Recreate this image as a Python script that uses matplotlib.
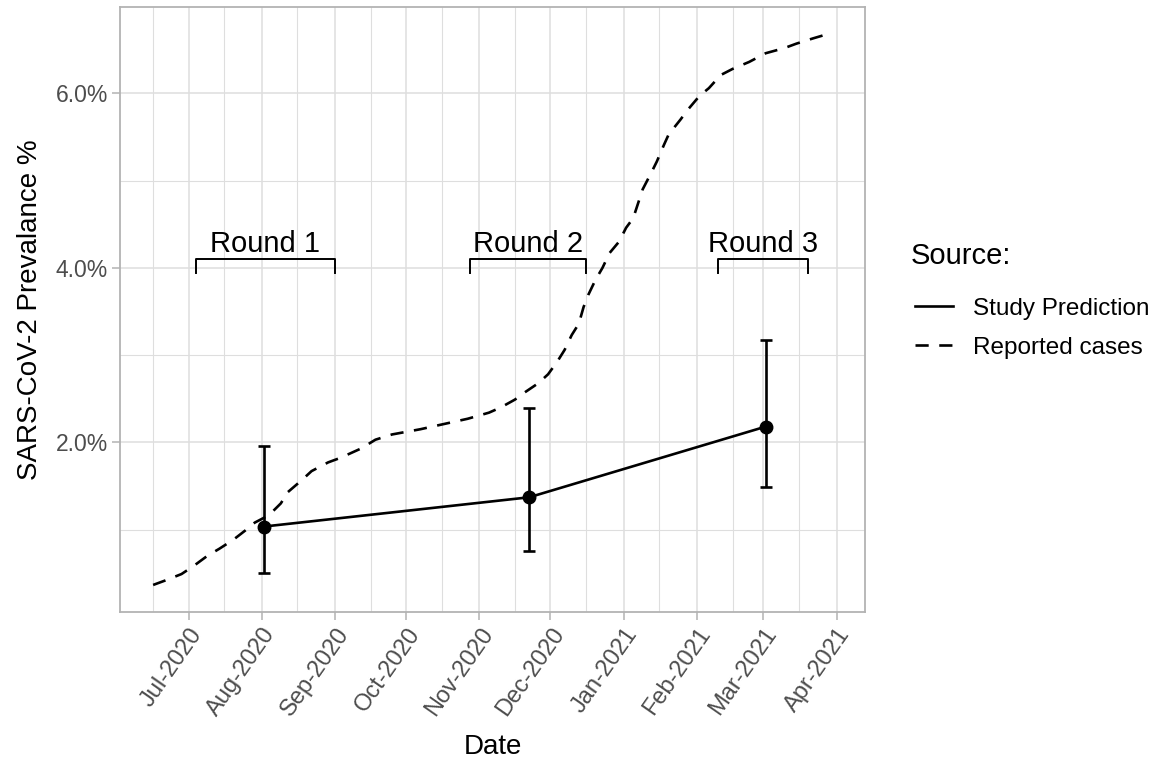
import matplotlib
matplotlib.use("Agg")
import matplotlib.pyplot as plt
import matplotlib.dates as mdates
from matplotlib.lines import Line2D
import numpy as np
import pandas as pd

# ---- data ----
pred_dates = ["2020-08-02", "2020-11-22", "2021-03-02"]
pred_vals = [1.035, 1.37, 2.18]
pred_low = [0.50, 0.75, 1.49]
pred_high = [1.96, 2.39, 3.17]

rep_dates = ["2020-06-16", "2020-06-21", "2020-06-28", "2020-07-03", "2020-07-09",
             "2020-07-14", "2020-07-20", "2020-07-25", "2020-07-29", "2020-08-04",
             "2020-08-09", "2020-08-12", "2020-08-18", "2020-08-22", "2020-08-29",
             "2020-09-03", "2020-09-12", "2020-09-18", "2020-09-25", "2020-10-07",
             "2020-10-17", "2020-10-27", "2020-11-05", "2020-11-10", "2020-11-16",
             "2020-11-20", "2020-11-26", "2020-11-30", "2020-12-04", "2020-12-07",
             "2020-12-10", "2020-12-13", "2020-12-15", "2020-12-17", "2020-12-20",
             "2020-12-23", "2020-12-26", "2020-12-30", "2021-01-02", "2021-01-05",
             "2021-01-09", "2021-01-13", "2021-01-15", "2021-01-18", "2021-01-20",
             "2021-01-25", "2021-01-28", "2021-02-02", "2021-02-06", "2021-02-11",
             "2021-02-16", "2021-02-23", "2021-03-02", "2021-03-10", "2021-03-15",
             "2021-03-22", "2021-03-27"]
rep_vals = [0.365, 0.415, 0.49, 0.58, 0.70,
            0.78, 0.885, 0.99, 1.08, 1.165,
            1.30, 1.43, 1.57, 1.67, 1.77,
            1.82, 1.93, 2.03, 2.09, 2.15,
            2.21, 2.27, 2.34, 2.40, 2.49,
            2.57, 2.68, 2.78, 2.93, 3.06,
            3.23, 3.36, 3.55, 3.69, 3.86,
            4.00, 4.17, 4.30, 4.46, 4.57,
            4.90, 5.11, 5.22, 5.41, 5.53,
            5.70, 5.81, 5.97, 6.06, 6.21,
            6.28, 6.36, 6.46, 6.52, 6.57,
            6.63, 6.67]

rounds = ["Round 1", "Round 2", "Round 3"]
round_start = ["2020-07-04", "2020-10-28", "2021-02-10"]
round_end = ["2020-09-01", "2020-12-16", "2021-03-20"]
round_y = 4.10
round_tip = 3.94
round_text_y = 4.18

tick_dates = pd.date_range("2020-07-01", "2021-04-01", freq="MS")

# ---- style ----
plt.rcParams.update({"font.family": ["Liberation Sans", "DejaVu Sans"]})
grid_col = "#DEDEDE"
border_col = "#B3B3B3"
tick_col = "#4D4D4D"
dash = (0, (5, 4))
lw = 1.9

fig = plt.figure(figsize=(11.59, 7.61), dpi=100)
ax = fig.add_axes([120 / 1159, 1 - 612 / 761, 745 / 1159, 605 / 761])

pd_x = pd.to_datetime(pred_dates)
rp_x = pd.to_datetime(rep_dates)

ax.plot(rp_x, rep_vals, color="black", linewidth=lw, linestyle=dash, zorder=3)
yerr = [np.array(pred_vals) - np.array(pred_low), np.array(pred_high) - np.array(pred_vals)]
ax.errorbar(pd_x, pred_vals, yerr=yerr, color="black", linewidth=lw, elinewidth=lw,
            capsize=4.2, capthick=lw, marker="o", markersize=9, zorder=4)

# round brackets
for name, s, e in zip(rounds, round_start, round_end):
    s, e = pd.Timestamp(s), pd.Timestamp(e)
    ax.plot([s, s, e, e], [round_tip, round_y, round_y, round_tip],
            color="black", linewidth=1.4, zorder=3)
    ax.text(s + (e - s) / 2, round_text_y, name, ha="center", va="baseline", fontsize=21)

ax.set_xlim(pd.Timestamp("2020-06-02"), pd.Timestamp("2021-04-13"))
ax.set_ylim(0.055, 6.99)

ax.set_xticks(tick_dates)
ax.set_xticklabels([d.strftime("%b-%Y") for d in tick_dates], rotation=55,
                   ha="right", va="top", rotation_mode="anchor", fontsize=17, color=tick_col)
ax.xaxis.set_minor_locator(mdates.DayLocator(bymonthday=16))
ax.set_yticks([2, 4, 6])
ax.set_yticklabels(["2.0%", "4.0%", "6.0%"], fontsize=16.5, color=tick_col)
ax.set_yticks([1, 3, 5], minor=True)

ax.grid(True, which="major", color=grid_col, linewidth=1.1)
ax.grid(True, which="minor", color=grid_col, linewidth=0.8)
ax.set_axisbelow(True)
for sp in ax.spines.values():
    sp.set_color(border_col)
    sp.set_linewidth(1.3)
ax.tick_params(which="major", color=border_col, length=5.5, width=1.1, pad=3)
ax.tick_params(which="minor", length=0)

ax.set_xlabel("Date", fontsize=20, labelpad=10)
ax.set_ylabel("SARS-CoV-2 Prevalance %", fontsize=20, labelpad=9)

# legend (title drawn separately to get the ggplot spacing)
fig.text(911 / 1159, 1 - 256 / 761, "Source:", fontsize=21, ha="left", va="center")
h_solid = Line2D([], [], color="black", linewidth=lw)
h_dash = Line2D([], [], color="black", linewidth=lw, linestyle=dash)
fig.legend([h_solid, h_dash], ["Study Prediction", "Reported cases"],
           loc="upper left", bbox_to_anchor=(893 / 1159, 1 - 276 / 761),
           frameon=False, fontsize=17.5, handlelength=1.55,
           labelspacing=0.7, handletextpad=0.85)

fig.savefig("out.png", dpi=100)
